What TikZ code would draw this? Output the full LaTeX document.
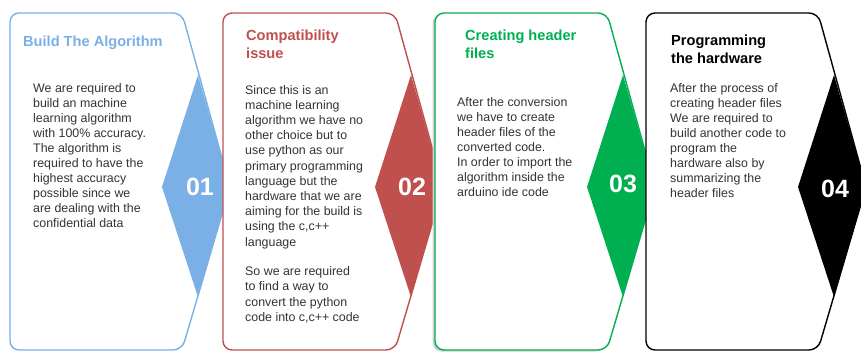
\documentclass[tikz,border=0pt]{standalone}
\usepackage{fontspec}
\setmainfont{Liberation Sans}
\usepackage{tikz}

\definecolor{stepblue}{RGB}{122,176,230}
\definecolor{stepred}{RGB}{192,80,77}
\definecolor{stepgreen}{RGB}{0,176,80}

\begin{document}
\begin{tikzpicture}[x=1pt,y=-1pt,
  stage box/.style={fill=white,line width=1.4pt},
  stage title/.style={anchor=north west,inner sep=0pt,align=left,
    font=\fontsize{14.6}{17.5}\selectfont\bfseries},
  stage body/.style={anchor=north west,inner sep=0pt,align=left,text=black!80,
    font=\fontsize{12.4}{15}\selectfont},
  stage num/.style={text=white,inner sep=0pt,font=\fontsize{25}{25}\selectfont\bfseries}]

  \useasboundingbox (0,0) rectangle (861,353);
  \clip (0,0) rectangle (861,353);

  % panels, each one over the tip of the one before
  \foreach \o/\c in {0/stepblue,213/stepred,425/stepgreen,636/black}{
    \ifnum\o=425
      \fill[black!18,xshift=-2.5pt,yshift=-1.5pt] (10+\o,350) [rounded corners=9pt] -- (10+\o,13)
        -- (182+\o,13) -- (182+\o,350) -- cycle;
    \fi
    \draw[stage box,draw=\c] (10+\o,350) [rounded corners=9pt] -- (10+\o,13) -- (182+\o,13)
      [sharp corners] -- (230+\o,187) [rounded corners=9pt] -- (182+\o,350) -- cycle;
    \fill[\c] (198+\o,75) -- (230+\o,187) -- (198+\o,297) -- (162+\o,187) -- cycle;
  }

  \node[stage title,text=stepblue] (t1) at (23,36) {Build The Algorithm};
  \node[stage body] (b1) at (33,83) {We are required to\\build an machine\\learning algorithm\\with 100\% accuracy.\\The algorithm is\\required to have the\\highest accuracy\\possible since we\\are dealing with the\\confidential data};
  \node[stage num] (n1) at (200,187) {01};

  \node[stage title,text=stepred] (t2) at (246,30) {Compatibility\\issue};
  \node[stage body,font=\fontsize{12.4}{15.2}\selectfont] (b2) at (245,85) {Since this is an\\machine learning\\algorithm we have no\\other choice but to\\use python as our\\primary programming\\language but the\\hardware that we are\\aiming for the build is\\using the c,c++\\language};
  \node[stage body,font=\fontsize{12.4}{15.6}\selectfont] (c2) at (245,266) {So we are required\\to find a way to\\convert the python\\code into c,c++ code};
  \node[stage num] (n2) at (412,187) {02};

  \node[stage title,text=stepgreen] (t3) at (465,30) {Creating header\\files};
  \node[stage body] (b3) at (457,97) {After the conversion\\we have to create\\header files of the\\converted code.\\In order to import the\\algorithm inside the\\arduino ide code};
  \node[stage num] (n3) at (623,184) {03};

  \node[stage title,text=black] (t4) at (671,35) {Programming\\the hardware};
  \node[stage body] (b4) at (670,83) {After the process of\\creating header files\\We are required to\\build another code to\\program the\\hardware also by\\summarizing the\\header files};
  \node[stage num] (n4) at (835,189) {04};
\end{tikzpicture}
\end{document}
